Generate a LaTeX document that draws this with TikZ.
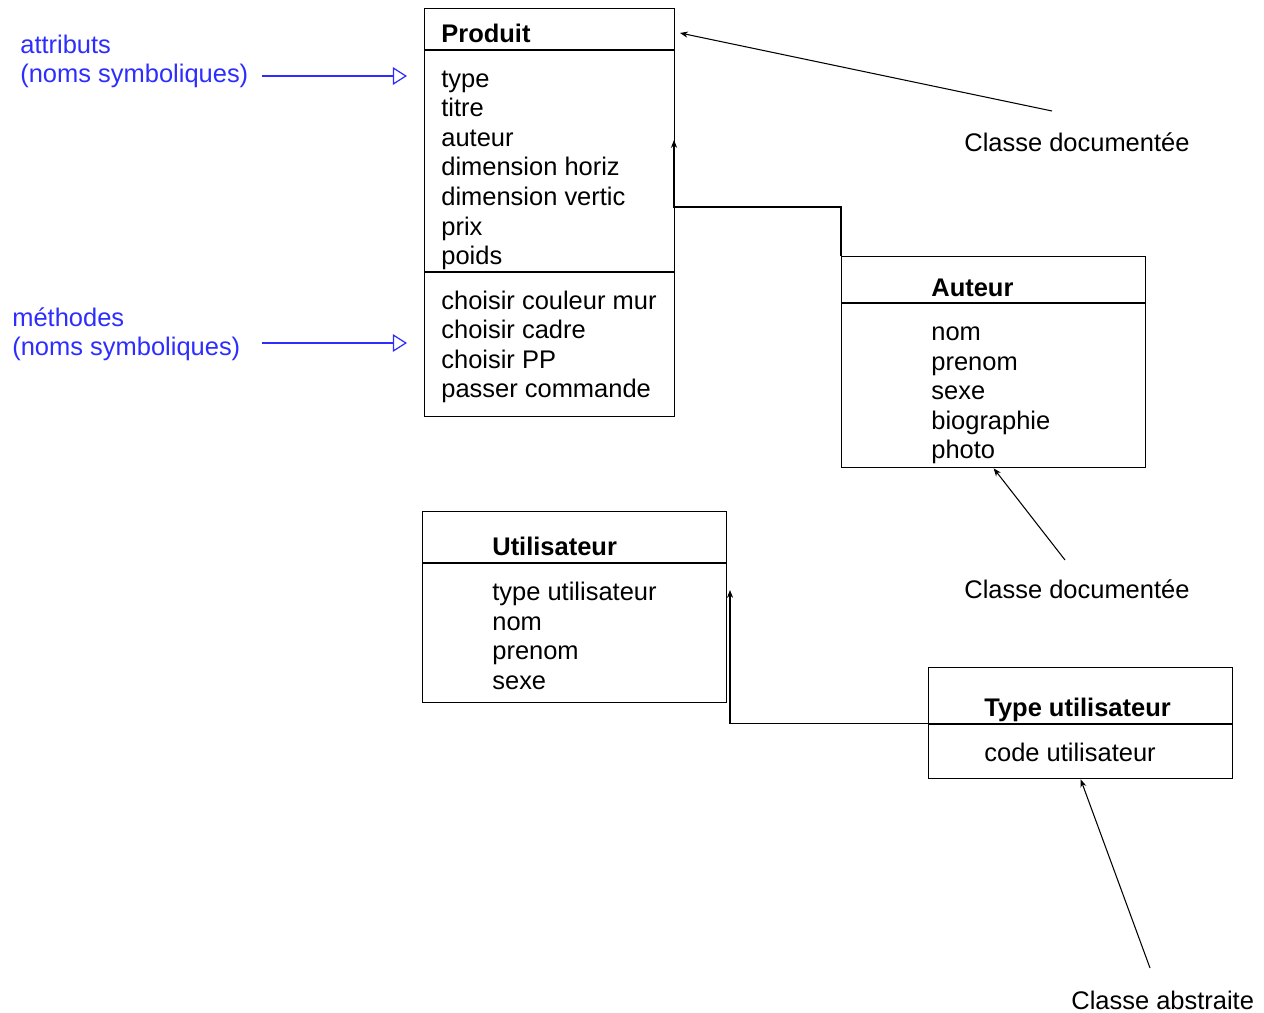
\documentclass[tikz,border=0pt]{standalone}
\usepackage{fontspec}
\setmainfont{Liberation Sans}
\usepackage{xcolor}
\usetikzlibrary{arrows.meta}
\definecolor{noteblue}{RGB}{45,45,255}

\tikzset{
  classbox/.style={draw=black,line width=0.8pt,rectangle,anchor=north west,inner sep=0pt},
  ctitle/.style={anchor=mid west,inner sep=0pt,yshift=-1.7pt,font=\fontsize{14.5}{17}\selectfont\bfseries},
  member/.style={anchor=mid west,inner sep=0pt,yshift=-1.7pt,font=\fontsize{14.5}{17}\selectfont},
  note/.style={anchor=mid west,inner sep=0pt,yshift=-1.7pt,font=\fontsize{14.5}{17}\selectfont},
  bluenote/.style={note,text=noteblue},
  link/.style={draw=black,line width=0.6pt,-{Stealth[length=4.5pt,width=3.5pt]}},
  bluelink/.style={draw=noteblue,line width=0.7pt,-{Triangle[open,length=8pt,width=10pt]}}
}

\begin{document}
\begin{tikzpicture}[x=0.02cm,y=-0.02cm]
            \useasboundingbox (0,0) rectangle (1264,1013);

            \node[classbox,minimum width=5cm,minimum height=8.16cm] (produit) at (424,8) {};
            \draw[line width=0.8pt] (424,50) -- (674,50);
            \draw[line width=0.8pt] (424,272) -- (674,272);
            \node[ctitle] (produitT) at (441,35) {Produit};
            \node[member] (p1) at (441,80) {type};
            \node[member] (p2) at (441,109) {titre};
            \node[member] (p3) at (441,139) {auteur};
            \node[member] (p4) at (441,168) {dimension horiz};
            \node[member] (p5) at (441,198) {dimension vertic};
            \node[member] (p6) at (441,228) {prix};
            \node[member] (p7) at (441,257) {poids};
            \node[member] (m1) at (441,302) {choisir couleur mur};
            \node[member] (m2) at (441,331) {choisir cadre};
            \node[member] (m3) at (441,361) {choisir PP};
            \node[member] (m4) at (441,390) {passer commande};

            \node[classbox,minimum width=6.08cm,minimum height=4.22cm] (auteur) at (841,256) {};
            \draw[line width=0.8pt] (841,303) -- (1145,303);
            \node[ctitle] (auteurT) at (931,289) {Auteur};
            \node[member] (a1) at (931,333) {nom};
            \node[member] (a2) at (931,363) {prenom};
            \node[member] (a3) at (931,392) {sexe};
            \node[member] (a4) at (931,422) {biographie};
            \node[member] (a5) at (931,451) {photo};

            \node[classbox,minimum width=6.08cm,minimum height=3.82cm] (utilisateur) at (422,511) {};
            \draw[line width=0.8pt] (422,563) -- (726,563);
            \node[ctitle] (utilisateurT) at (492,548) {Utilisateur};
            \node[member] (u1) at (492,593) {type utilisateur};
            \node[member] (u2) at (492,623) {nom};
            \node[member] (u3) at (492,652) {prenom};
            \node[member] (u4) at (492,682) {sexe};

            \node[classbox,minimum width=6.08cm,minimum height=2.22cm] (typeu) at (928,667) {};
            \draw[line width=0.8pt] (928,724) -- (1232,724);
            \node[ctitle] (typeuT) at (984,709) {Type utilisateur};
            \node[member] (t1) at (984,754) {code utilisateur};

            \node[bluenote] (attr1) at (20,46) {attributs};
            \node[bluenote] (attr2) at (20,75) {(noms symboliques)};
            \node[bluenote] (meth1) at (12,319) {méthodes};
            \node[bluenote] (meth2) at (12,348) {(noms symboliques)};

            \node[note] (doc1) at (964,144) {Classe documentée};
            \node[note] (doc2) at (964,591) {Classe documentée};
            \node[note] (abs1) at (1071,1002) {Classe abstraite};

            \coordinate (pin1) at (674,140);
            \coordinate (pin2) at (730,590);
            \coordinate (tip1) at (680,33);
            \coordinate (from1) at (1052,111);
            \coordinate (from2) at (1065,560);
            \coordinate (from3) at (1150,968);
            \coordinate (battr) at (262,76);
            \coordinate (eattr) at (407,76);
            \coordinate (bmeth) at (262,343);
            \coordinate (emeth) at (407,343);

            \draw[link] (auteur.north west) |- (pin1 |- 0,207) -- (pin1);
            \draw[link] (typeu.west) -| (pin2);
            \draw[link] (from1) -- (tip1);
            \draw[link] (from2) -- (auteur.south);
            \draw[link] (from3) -- (typeu.south);
            \draw[bluelink] (battr) -- (eattr);
            \draw[bluelink] (bmeth) -- (emeth);
        \end{tikzpicture}
\end{document}
